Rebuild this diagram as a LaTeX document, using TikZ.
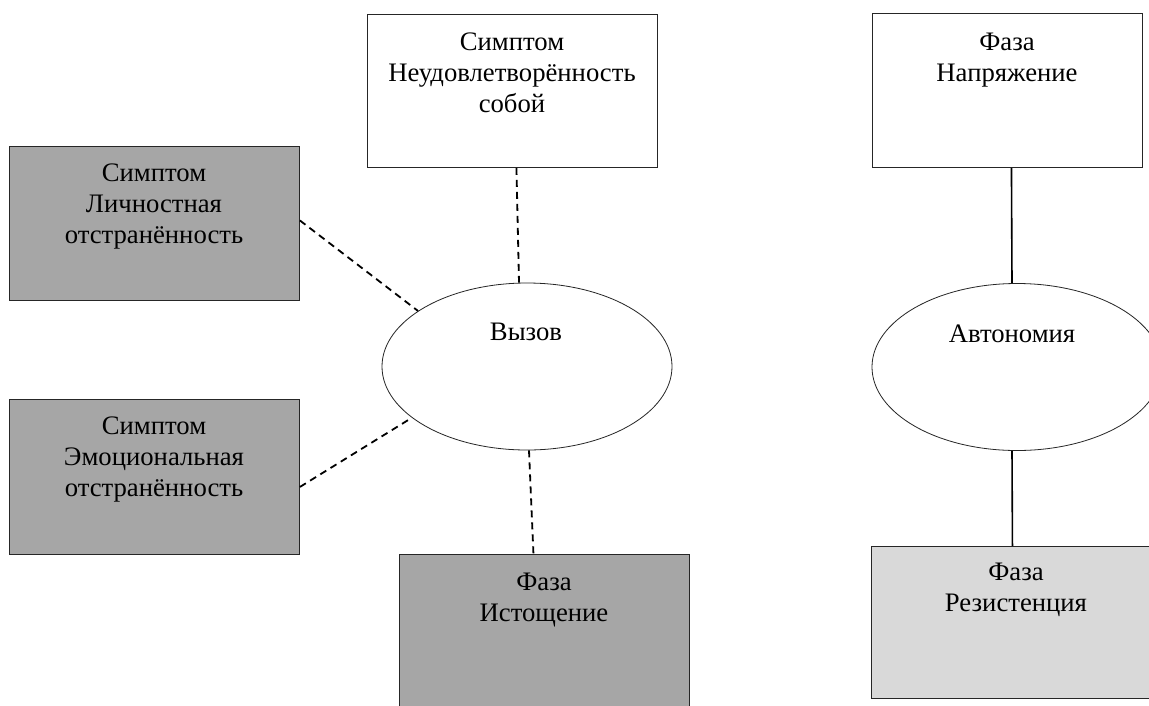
\documentclass[tikz,border=0pt]{standalone}
\usepackage{fontspec}
\setmainfont{Liberation Serif}
\usetikzlibrary{shapes.geometric}
\definecolor{darkfill}{HTML}{A6A6A6}
\definecolor{lightfill}{HTML}{D9D9D9}
\tikzset{
  boxnode/.style={draw=black!85, line width=0.9pt, rectangle, inner sep=0pt, anchor=north west,
                  minimum width=#1},
  boxnode/.default=290pt,
  ellnode/.style={draw=black!85, line width=0.8pt, ellipse, inner sep=0pt, fill=white,
                  minimum width=290pt, minimum height=167pt},
  txt/.style={anchor=base, align=center, inner sep=0pt, font=\fontsize{26.7}{31}\selectfont},
  dashlink/.style={line width=1.8pt, dash pattern=on 7pt off 5pt},
  solidlink/.style={line width=1.6pt}
}
\begin{document}
\begin{tikzpicture}[x=1pt,y=-1pt]
\useasboundingbox (0,0) rectangle (1149,705);
\clip (0,0) rectangle (1149,705);
\fill[white] (0,0) rectangle (1149,705);

% boxes
\node[boxnode, fill=white, minimum height=153pt] (btop) at (367,14) {};
\node[boxnode, fill=darkfill, minimum height=154pt] (bl1) at (9,146) {};
\node[boxnode, fill=darkfill, minimum height=155pt] (bl2) at (9,399) {};
\node[boxnode, fill=darkfill, minimum height=170pt] (bist) at (399,554) {};
\node[boxnode=270pt, fill=white, minimum height=154pt] (bnap) at (872,13) {};
\node[boxnode, fill=lightfill, minimum height=152pt] (brez) at (871,546) {};

% ellipses
\node[ellnode] (vyz) at (527,366.5) {};
\node[ellnode] (aut) at (1017,367) {};

% texts (anchor=base is the baseline of the last line)
\node[txt] (ttop) at (512,112) {Симптом\\Неудовлетворённость\\собой};
\node[txt] (tl1) at (154,243) {Симптом\\Личностная\\отстранённость};
\node[txt] (tl2) at (154,496) {Симптом\\Эмоциональная\\отстранённость};
\node[txt] (tist) at (544,621) {Фаза\\Истощение};
\node[txt] (tnap) at (1007,81) {Фаза\\Напряжение};
\node[txt] (trez) at (1016,611) {Фаза\\Резистенция};
\node[txt] (tvyz) at (526,340) {Вызов};
\node[txt] (taut) at (1012,342) {Автономия};

% connectors
\draw[dashlink] ([xshift=4pt]btop.south) -- ([xshift=-8pt]vyz.north);
\draw[dashlink] ([yshift=3pt]bl1.east) -- (vyz.153);
\draw[dashlink] ([yshift=-10pt]bl2.east) -- (vyz.204);
\draw[dashlink] ([xshift=2pt]vyz.south) -- ([xshift=-11pt]bist.north);
\draw[solidlink] ([xshift=4pt]bnap.south) -- ([xshift=-5pt]aut.north);
\draw[solidlink] ([xshift=-5pt]aut.south) -- ([xshift=-4pt]brez.north);
\end{tikzpicture}
\end{document}
